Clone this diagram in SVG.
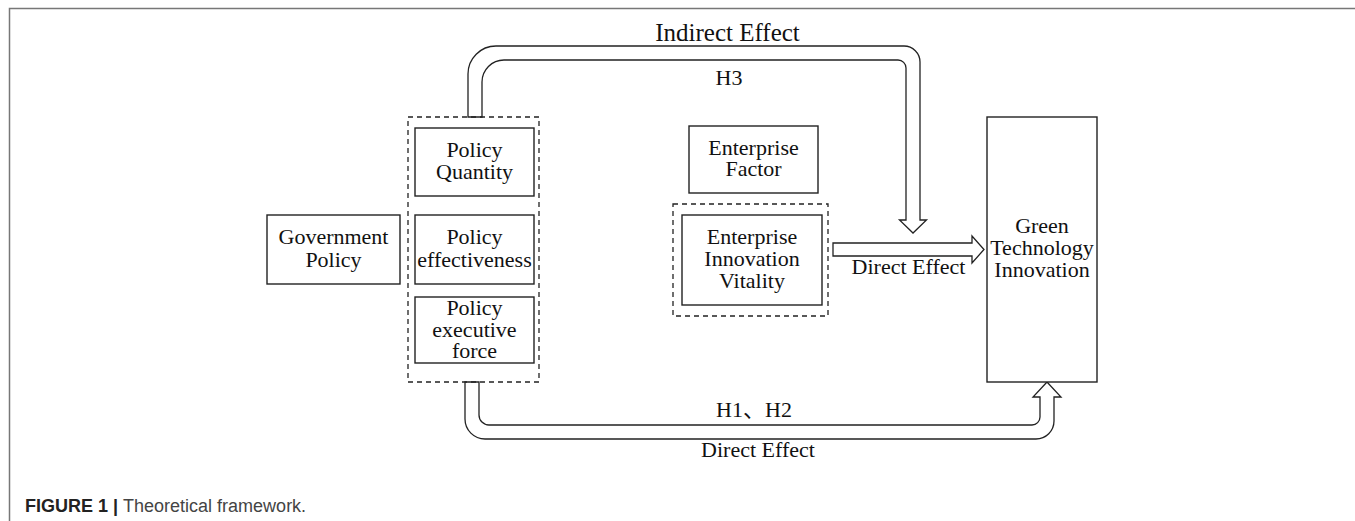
<svg xmlns="http://www.w3.org/2000/svg" width="1355" height="521" viewBox="0 0 1355 521">
<style>
.box{fill:#fff;stroke:#222;stroke-width:1.4}
.dash{fill:none;stroke:#222;stroke-width:1.3;stroke-dasharray:5,4}
.arrow{fill:#fff;stroke:#222;stroke-width:1.3;stroke-linejoin:miter}
.t{font-family:"Liberation Serif","Noto Sans CJK SC",serif;font-size:22px;fill:#111;text-anchor:middle}
.frame{stroke:#777;stroke-width:1.5;fill:none}
</style>
<rect width="1355" height="521" fill="#fff"/>
<path class="frame" d="M9.5,521 V8.5 H1355"/>

<g id="connectors">
  <path class="arrow" d="M468,117 V74 A28,28 0 0 1 496,46 H904 A16,16 0 0 1 920,62 V220 H926.5 L913,233 L899.5,220 H906 V68 A8,8 0 0 0 898,60 H504 A22,22 0 0 0 482,82 V117 Z"/>
  <path class="arrow" d="M833,243 H972 V236 L984,249.5 L972,263 V256 H833 Z"/>
  <path class="arrow" d="M465,382 V419 A20,20 0 0 0 485,439 H1036 A18,18 0 0 0 1054,421 V397 H1061 L1047,382 L1033,397 H1040 V417 A8,8 0 0 1 1032,425 H489 A10,10 0 0 1 479,415 V382 Z"/>
  <text class="t" x="727.5" y="41" style="font-size:25px">Indirect Effect</text>
  <text class="t" x="729" y="85">H3</text>
  <text class="t" x="908.5" y="274">Direct Effect</text>
  <text class="t" x="754" y="417">H1、H2</text>
  <text class="t" x="758" y="457">Direct Effect</text>
</g>

<g id="policy-group">
  <rect class="dash" x="408" y="117" width="131" height="265"/>
</g>

<g id="government-policy">
  <rect class="box" x="267" y="215" width="133" height="69"/>
  <text class="t" x="333.5" y="244">Government</text>
  <text class="t" x="333.5" y="267">Policy</text>
</g>

<g id="policy-quantity">
  <rect class="box" x="415" y="128" width="119" height="68"/>
  <text class="t" x="474.5" y="157">Policy</text>
  <text class="t" x="474.5" y="179">Quantity</text>
</g>

<g id="policy-effectiveness">
  <rect class="box" x="415" y="215" width="119" height="69"/>
  <text class="t" x="474.5" y="244">Policy</text>
  <text class="t" x="474.5" y="267">effectiveness</text>
</g>

<g id="policy-executive-force">
  <rect class="box" x="415" y="297" width="119" height="66"/>
  <text class="t" x="474.5" y="315">Policy</text>
  <text class="t" x="474.5" y="337">executive</text>
  <text class="t" x="474.5" y="358">force</text>
</g>

<g id="enterprise-factor">
  <rect class="box" x="689" y="126" width="129" height="67"/>
  <text class="t" x="753.5" y="155">Enterprise</text>
  <text class="t" x="753.5" y="176">Factor</text>
</g>

<g id="enterprise-innovation-vitality">
  <rect class="dash" x="673" y="204" width="155" height="112"/>
  <rect class="box" x="682" y="215" width="140" height="90"/>
  <text class="t" x="752" y="244">Enterprise</text>
  <text class="t" x="752" y="266">Innovation</text>
  <text class="t" x="752" y="288">Vitality</text>
</g>

<g id="green-technology-innovation">
  <rect class="box" x="987" y="117" width="110" height="265"/>
  <text class="t" x="1042" y="233">Green</text>
  <text class="t" x="1042" y="255">Technology</text>
  <text class="t" x="1042" y="277">Innovation</text>
</g>

<g id="caption">
  <text x="25" y="512" style="font-family:'Liberation Sans',Arial,sans-serif;font-size:18px"><tspan font-weight="bold" fill="#222">FIGURE 1 | </tspan><tspan fill="#444">Theoretical framework.</tspan></text>
</g>
</svg>
